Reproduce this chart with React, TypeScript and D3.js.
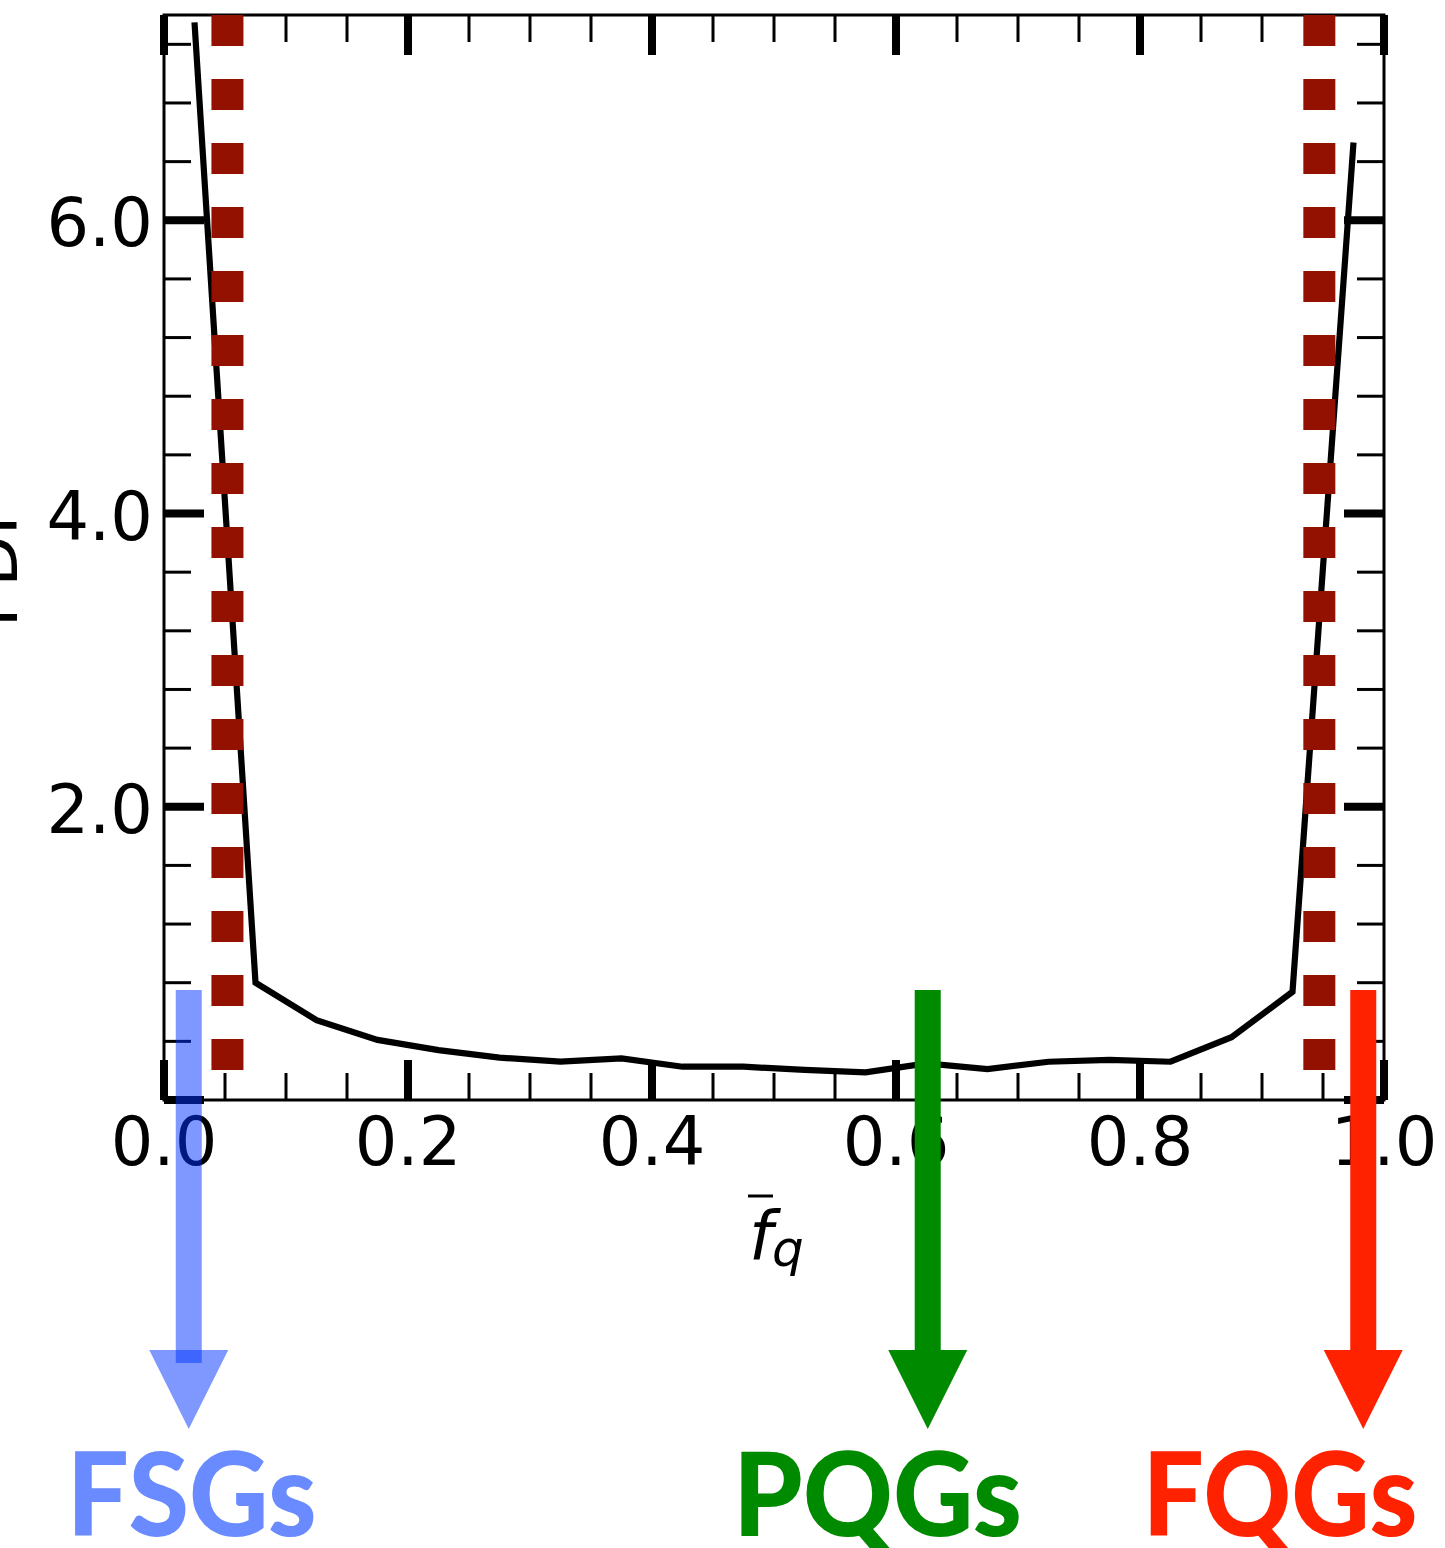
import React from "react";
import * as d3 from "d3";

// ---- data ----
const binCenters = [0.025, 0.075, 0.125, 0.175, 0.225, 0.275, 0.325, 0.375, 0.425, 0.475, 0.525, 0.575, 0.625, 0.675, 0.725, 0.775, 0.825, 0.875, 0.925, 0.975];
const pdfValues = [7.35, 0.80, 0.545, 0.41, 0.34, 0.289, 0.262, 0.284, 0.227, 0.227, 0.205, 0.189, 0.25, 0.211, 0.261, 0.273, 0.261, 0.428, 0.738, 6.53];
const thresholds = [0.052, 0.947];
const xMajorTicks = [0, 0.2, 0.4, 0.6, 0.8, 1.0];
const yMajorTicks = [0, 2, 4, 6];
const yTickLabels = ["", "2.0", "4.0", "6.0"];
const xTickLabels = ["0.0", "0.2", "0.4", "0.6", "0.8", "1.0"];
const groupNames = ["FSGs", "PQGs", "FQGs"];
const groupArrowX = [0.0203, 0.626, 0.983];
const groupColors = ["#6a8bff", "#008a00", "#ff2200"];
const arrowColors = ["rgb(0,49,255)", "#008a00", "#ff2200"];
const arrowOpacity = [0.5, 1, 1];

const W = 1445, H = 1548;
const L = 164, R = 1384, T = 15, B = 1100;

export default function App() {
  if (typeof document !== "undefined") document.body.style.margin = "0";
  const x = d3.scaleLinear().domain([0, 1]).range([L, R]);
  const y = d3.scaleLinear().domain([0, 7.4]).range([B, T]);

  const xMinor = d3.range(0, 21).map((i) => i * 0.05).filter((v) => Math.abs(v / 0.2 - Math.round(v / 0.2)) > 1e-6);
  const yMinor = d3.range(1, 19).map((i) => i * 0.4).filter((v) => Math.abs(v / 2 - Math.round(v / 2)) > 1e-6);

  const line = d3.line<number>().x((_, i) => x(binCenters[i])).y((d) => y(d));
  const pts = pdfValues;

  const majLen = 40, minLen = 27, majW = 8, minW = 3;
  const font = "'DejaVu Sans', sans-serif";
  const labelCenters = [191.7, 877.5, 1280];
  const labelWidths = [250, 289, 275];

  return (
    <div style={{ position: "absolute", left: 0, top: 0 }}>
      <svg width={W} height={H} viewBox={`0 0 ${W} ${H}`} style={{ display: "block", background: "#fff" }}>
        {/* minor ticks */}
        <g stroke="#000" strokeWidth={minW}>
          {xMinor.map((v) => (
            <g key={"xm" + v}>
              <line x1={x(v)} x2={x(v)} y1={B} y2={B - minLen} />
              <line x1={x(v)} x2={x(v)} y1={T} y2={T + minLen} />
            </g>
          ))}
          {yMinor.map((v) => (
            <g key={"ym" + v}>
              <line x1={L} x2={L + minLen} y1={y(v)} y2={y(v)} />
              <line x1={R} x2={R - minLen} y1={y(v)} y2={y(v)} />
            </g>
          ))}
        </g>
        <g stroke="#000" strokeWidth={majW}>
          {xMajorTicks.map((v) => (
            <g key={"xM" + v}>
              <line x1={x(v)} x2={x(v)} y1={B} y2={B - majLen} />
              <line x1={x(v)} x2={x(v)} y1={T} y2={T + majLen} />
            </g>
          ))}
          {yMajorTicks.map((v) => (
            <g key={"yM" + v}>
              <line x1={L} x2={L + majLen} y1={y(v)} y2={y(v)} />
              <line x1={R} x2={R - majLen} y1={y(v)} y2={y(v)} />
            </g>
          ))}
        </g>
        {/* frame */}
        <rect x={L} y={T} width={R - L} height={B - T} fill="none" stroke="#000" strokeWidth={3} />

        {/* tick labels */}
        <g fontFamily={font} fontSize={67} fill="#000">
          {xMajorTicks.map((v, i) => (
            <text key={"xl" + v} x={x(v)} y={1165} textAnchor="middle">{xTickLabels[i]}</text>
          ))}
          {yMajorTicks.map((v, i) => (
            <text key={"yl" + v} x={153} y={y(v) + 26} textAnchor="end">{yTickLabels[i]}</text>
          ))}
        </g>
        {/* y label */}
        <text transform="translate(17,562) rotate(-90)" fontFamily={font} fontSize={67} textAnchor="middle">PDF</text>
        {/* x label */}
        <g fontFamily={font} fill="#000">
          <text x={749} y={1260} fontSize={67} fontStyle="italic">f</text>
          <text x={772} y={1266} fontSize={50} fontStyle="italic">q</text>
          <line x1={748} x2={773} y1={1196} y2={1196} stroke="#000" strokeWidth={3} />
        </g>

        {/* pdf line */}
        <path d={line(pts) || ""} fill="none" stroke="#000" strokeWidth={6.2} strokeLinejoin="miter" />

        {/* threshold dotted lines */}
        {thresholds.map((t) => (
          <line key={"t" + t} x1={x(t)} x2={x(t)} y1={T} y2={B} stroke="#921100" strokeWidth={32} strokeDasharray="31,33" />
        ))}

        {/* arrows */}
        {groupArrowX.map((gx, i) => {
          const cx = x(gx);
          return (
            <g key={"a" + i} fill={arrowColors[i]} fillOpacity={arrowOpacity[i]}>
              <rect x={cx - 13} y={990} width={26} height={373 - (i === 0 ? 0 : 10)} />
              <path d={`M${cx - 39.5},1350 L${cx + 39.5},1350 L${cx},1429 Z`} />
            </g>
          );
        })}
        {/* group labels */}
        {groupNames.map((n, i) => (
          <text key={n} x={labelCenters[i]} y={1536} textAnchor="middle" fontFamily="Lato, 'Open Sans', sans-serif" fontWeight={900} fontSize={117} fill={groupColors[i]} textLength={labelWidths[i]} lengthAdjust="spacingAndGlyphs">{n}</text>
        ))}
      </svg>
    </div>
  );
}
